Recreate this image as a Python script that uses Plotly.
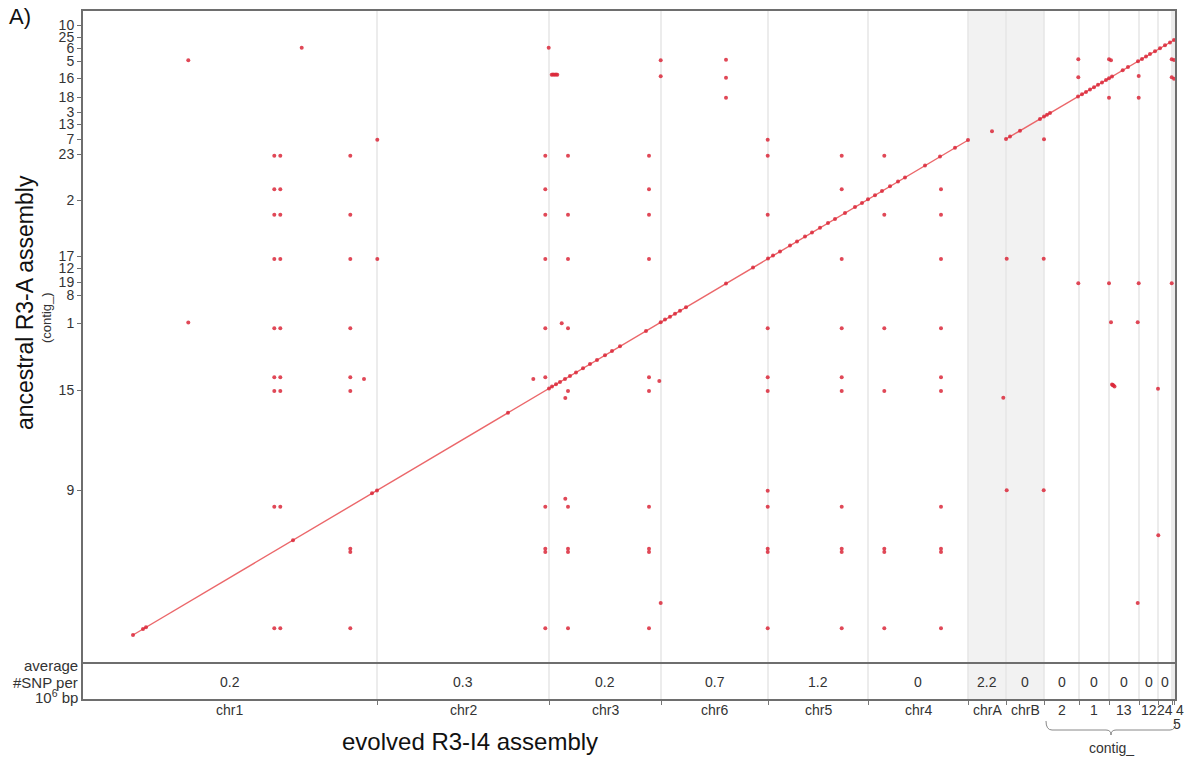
import plotly.graph_objects as go
import numpy as np

# ---------------- data ----------------
# evolved R3-I4 assembly: chromosomes / contigs along x (relative lengths)
chrom_names = ["chr1", "chr2", "chr3", "chr6", "chr5", "chr4", "chrA", "chrB",
               "2", "1", "13", "12", "24", "4", "5"]
chrom_lengths = [295, 172, 112, 107, 100, 100, 38, 38, 35, 30, 30, 19, 14, 2, 2]
snp_density = ["0.2", "0.3", "0.2", "0.7", "1.2", "0", "2.2", "0",
               "0", "0", "0", "0", "0", "", ""]
shaded_chroms = ["chrA", "chrB"]

# ancestral R3-A assembly: contig tick positions along y
contig_labels = ["9", "15", "1", "8", "19", "12", "17", "2", "23", "7",
                 "13", "3", "18", "16", "5", "6", "25", "10"]
contig_pos = [173, 273, 340, 368, 381, 395, 407, 463, 509, 524,
              539, 551, 566, 585, 602, 615, 626, 638]

# collinear alignment segments (line)
seg_x = [51, 886.3, None, 924, 1093]
seg_y = [28, 523, None, 524, 623.5]

# alignment hits lying on the collinear segments
syn_x = [51, 61, 64, 211, 290, 295, 426, 467, 470, 474, 478, 483, 488, 494, 501,
         508, 515, 523, 530, 538, 564, 578.7, 583, 588, 593, 598, 604, 644, 671,
         686, 691, 698, 708, 715, 723, 730, 738, 746, 753, 763, 773, 780, 786,
         793, 800, 808, 816, 823, 843, 858, 873, 886,
         924, 928, 938, 958, 962, 965, 968, 996, 1000, 1004, 1008, 1012, 1016,
         1020, 1024, 1027, 1030, 1040.7, 1046, 1056, 1060, 1064, 1068, 1073,
         1078, 1083, 1088, 1092]
syn_y = [28, 33.9, 35.7, 122.8, 169.7, 172.6, 250.3, 274.6, 276.4, 278.7, 281.1,
         284.0, 287.0, 290.6, 294.8, 298.9, 303.1, 307.8, 312.0, 316.7, 332.1,
         340.8, 343.4, 346.3, 349.3, 352.3, 355.8, 379.5, 395.5, 404.4, 407.4,
         411.5, 417.5, 421.6, 426.4, 430.5, 435.3, 440.0, 444.1, 450.0, 456.0,
         460.1, 463.7, 467.8, 472.0, 476.8, 481.5, 485.6, 497.5, 506.4, 515.3,
         523.0,
         524.0, 526.4, 532.3, 544.0, 546.4, 548.2, 549.9, 566.4, 568.8, 571.1,
         573.5, 575.8, 578.2, 580.6, 582.9, 584.7, 586.5, 592.8, 595.9, 601.8,
         604.1, 606.5, 608.9, 611.8, 614.7, 617.7, 620.6, 623.0]

# off-diagonal alignment hits
hit_x = [106.3, 219.7, 295.3,
         192.3, 198.3, 268.3, 463.3, 486, 567, 685.7, 759.7, 802.3,
         192.3, 198.3, 463.3, 567, 759.7, 859,
         192.3, 198.3, 268.3, 463.3, 486, 567, 685.7, 802.3, 859,
         192.3, 198.3, 268.3, 295.3, 463.3, 486, 567, 759.7, 859,
         106.3,
         192.3, 198.3, 268.3, 463.3, 486, 685.7, 759.7, 802.3, 859,
         466.7, 469.7, 471, 472.5, 474, 475.3,
         578.7, 578.7, 644, 644, 644, 685.7, 479.7,
         192.3, 198.3, 268.3, 463.3, 567, 685.7, 759.7, 859, 282, 451.3, 577.3,
         192.3, 198.3, 268.3, 486, 567, 685.7, 759.7, 802.3, 859,
         483.3, 483.3, 685.7,
         192.3, 198.3, 463.3, 486, 567, 685.7, 759.7, 859,
         268.3, 463.3, 486, 567, 685.7, 759.7, 802.3, 859,
         268.3, 463.3, 486, 567, 685.7, 759.7, 802.3, 859,
         578.7,
         192.3, 198.3, 268.3, 463.3, 486, 567, 685.7, 759.7, 802.3, 859,
         910, 962, 996.3, 996.3, 1027, 1029, 1027, 1056.7, 1056.7,
         1089.7, 1092, 1089.7, 1092, 924.7, 961.7,
         996.3, 1027, 1056.7, 1089.7, 1029, 1055.7,
         1030, 1030.7, 1031.5, 1032.5, 1076, 921.3, 924.7, 961.7, 1076.3, 1055.7]
hit_y = [602.7, 615.3, 523.3,
         507.3, 507.3, 507.3, 507.3, 507.3, 507.3, 507.3, 507.3, 507.3,
         473.7, 473.7, 473.7, 473.7, 473.7, 473.7,
         448.3, 448.3, 448.3, 448.3, 448.3, 448.3, 448.3, 448.3, 448.3,
         404, 404, 404, 404, 404, 404, 404, 404, 404,
         340.5,
         334.7, 334.7, 334.7, 334.7, 334.7, 334.7, 334.7, 334.7, 334.7,
         615.3, 588.3, 588.6, 588.3, 588.6, 588.3,
         602.7, 586.7, 603.3, 585.3, 565.3, 523.3, 339.7,
         285.7, 285.7, 285.7, 285.7, 285.7, 285.7, 285.7, 285.7, 284, 284, 282,
         272, 272, 272, 272, 272, 272, 272, 272, 272,
         265, 164.3, 172.3,
         156.3, 156.3, 156.3, 156.3, 156.3, 156.3, 156.3, 156.3,
         114.3, 114.3, 114.3, 114.3, 114.3, 114.3, 114.3, 114.3,
         111, 111, 111, 111, 111, 111, 111, 111,
         60,
         34.7, 34.7, 34.7, 34.7, 34.7, 34.7, 34.7, 34.7, 34.7, 34.7,
         531.7, 523.7, 603.7, 585.7, 603.7, 602.7, 565.3, 587, 565.3,
         603.7, 603, 585.7, 584.3, 404.3, 404.3,
         379.7, 379.7, 379.7, 379.7, 340.7, 340.7,
         278.5, 278, 277.5, 276.5, 274.3, 265.3, 172.7, 172.7, 127.7, 60]

# ---------------- derived geometry ----------------
bounds = np.concatenate([[0], np.cumsum(chrom_lengths)])
centers = (bounds[:-1] + bounds[1:]) / 2
x_total = float(bounds[-1])

W, H = 1193, 761
ML, MR, MT, MB = 82, 17, 10, 61
plot_h = H - MT - MB
panel_frac = 37 / plot_h

FONT = "Liberation Sans, Arial, sans-serif"
TXT = "#333333"
FRAME = "#6e6e6e"
RED_PT = "rgba(218,40,58,0.85)"
RED_LN = "rgba(234,95,98,0.95)"


def py(p):  # pixel row -> paper fraction (for annotations / decoration)
    return (H - MB - p) / plot_h


def px(p):  # pixel column -> paper fraction
    return (p - ML) / (W - ML - MR)


fig = go.Figure()

fig.add_trace(go.Scatter(x=seg_x, y=seg_y, mode="lines",
                         line=dict(color=RED_LN, width=1.4),
                         hoverinfo="skip", showlegend=False))
fig.add_trace(go.Scatter(x=syn_x, y=syn_y, mode="markers",
                         marker=dict(color=RED_PT, size=4, line=dict(width=0)),
                         showlegend=False))
fig.add_trace(go.Scatter(x=hit_x, y=hit_y, mode="markers",
                         marker=dict(color=RED_PT, size=4, line=dict(width=0)),
                         showlegend=False))
fig.add_trace(go.Scatter(x=[0], y=[0.5], xaxis="x", yaxis="y2", mode="markers",
                         marker=dict(opacity=0), hoverinfo="skip", showlegend=False))

shapes = []
for name in shaded_chroms:
    i = chrom_names.index(name)
    shapes.append(dict(type="rect", xref="x", yref="paper", x0=bounds[i], x1=bounds[i + 1],
                       y0=0, y1=1, fillcolor="#f2f2f2", line=dict(width=0), layer="below"))
for b in bounds[1:-1]:
    shapes.append(dict(type="line", xref="x", yref="paper", x0=b, x1=b, y0=0, y1=1,
                       line=dict(color="#e6e6e6", width=1.5), layer="below"))
shapes.append(dict(type="rect", xref="paper", yref="paper", x0=0, x1=1, y0=0, y1=1,
                   line=dict(color=FRAME, width=2), layer="above"))
shapes.append(dict(type="line", xref="paper", yref="paper", x0=0, x1=1,
                   y0=panel_frac, y1=panel_frac, line=dict(color=FRAME, width=2), layer="above"))
# brace under contigs
ci = chrom_names.index("2")
bx0, bx1 = bounds[ci] + 2, x_total
bm = (bx0 + bx1) / 2
y_a, y_b, y_c = py(721), py(730), py(735)
path = (f"M {bx0},{y_a} Q {bx0},{y_b} {bx0+6},{y_b} L {bm-5},{y_b} "
        f"Q {bm},{y_b} {bm},{y_c} Q {bm},{y_b} {bm+5},{y_b} L {bx1-6},{y_b} "
        f"Q {bx1},{y_b} {bx1},{y_a}")
shapes.append(dict(type="path", xref="x", yref="paper", path=path,
                   line=dict(color="#888888", width=1)))

ann = []
for i, (n, c) in enumerate(zip(chrom_names, centers)):
    xs, yp = 0, py(710)
    if n == "4":
        xs = 7
    if n == "5":
        xs, yp = 2, py(724)
    ann.append(dict(x=c, y=yp, xref="x", yref="paper", text=n, showarrow=False,
                    xshift=xs, font=dict(size=14, color=TXT, family=FONT),
                    xanchor="center", yanchor="middle"))
for d, c in zip(snp_density, centers):
    if d:
        ann.append(dict(x=c, y=0.5, xref="x", yref="y2", text=d, showarrow=False,
                        xanchor="center", yanchor="middle",
                        font=dict(size=14, color=TXT, family=FONT)))
for t, p in [("average", 665), ("#SNP per", 682), ("10<sup>6</sup> bp", 696)]:
    ann.append(dict(x=px(80), y=py(p), xref="paper", yref="paper", text=t, showarrow=False,
                    xanchor="right", yanchor="middle",
                    font=dict(size=15, color=TXT, family=FONT)))
ann.append(dict(x=388, y=py(741), xref="x", yref="paper", text="evolved R3-I4 assembly",
                xanchor="center", yanchor="middle",
                showarrow=False, font=dict(size=24, color="#111111", family=FONT)))
ann.append(dict(x=bm, y=py(748), xref="x", yref="paper", text="contig_",
                xanchor="center", yanchor="middle",
                showarrow=False, font=dict(size=14, color=TXT, family=FONT)))
ann.append(dict(x=px(25), y=py(303), xref="paper", yref="paper", text="ancestral R3-A assembly",
                xanchor="center", yanchor="middle",
                textangle=-90, showarrow=False, font=dict(size=23, color="#111111", family=FONT)))
ann.append(dict(x=px(46), y=py(318), xref="paper", yref="paper", text="(contig_)",
                xanchor="center", yanchor="middle",
                textangle=-90, showarrow=False, font=dict(size=13, color=TXT, family=FONT)))
ann.append(dict(x=px(7), y=py(17), xref="paper", yref="paper", text="A)",
                xanchor="left", yanchor="middle",
                showarrow=False, font=dict(size=22, color="#111111", family=FONT)))

fig.update_layout(
    width=W, height=H,
    margin=dict(l=ML, r=MR, t=MT, b=MB),
    paper_bgcolor="white", plot_bgcolor="white",
    showlegend=False,
    font=dict(family=FONT, size=14, color=TXT),
    xaxis=dict(range=[0, x_total], domain=[0, 1], anchor="y2",
               tickvals=list(bounds[1:-1]), ticktext=[""] * (len(bounds) - 2),
               ticks="outside", ticklen=4, tickcolor="#777777", tickwidth=1.2,
               showgrid=False, zeroline=False, showline=False, showticklabels=True),
    yaxis=dict(range=[0, 653], domain=[panel_frac, 1], anchor="x",
               tickvals=contig_pos, ticktext=contig_labels,
               ticks="outside", ticklen=4, tickcolor=FRAME, tickwidth=1,
               tickfont=dict(size=14, color=TXT, family=FONT),
               showgrid=False, zeroline=False, showline=False),
    yaxis2=dict(range=[0, 1], domain=[0, panel_frac], anchor="x",
                showticklabels=False, ticks="", showgrid=False, zeroline=False, showline=False),
    shapes=shapes,
    annotations=ann,
)

fig.write_html("out.html", config={"displayModeBar": False},
               post_script="document.body.style.margin='0';document.body.style.overflow='hidden';")
